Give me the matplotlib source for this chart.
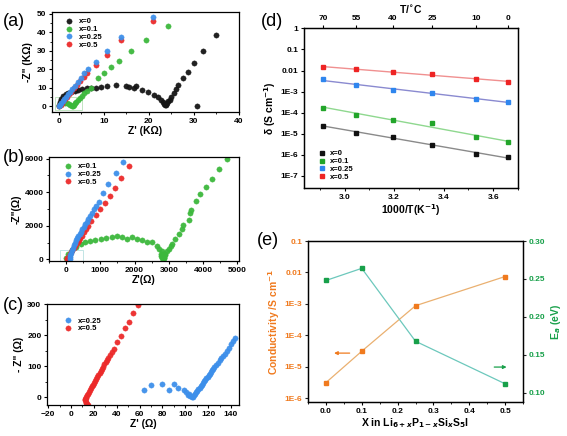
import numpy as np
import matplotlib.pyplot as plt
from matplotlib.ticker import MultipleLocator, FixedLocator, FixedFormatter, NullLocator

plt.rcParams['font.family'] = ['Liberation Sans', 'DejaVu Sans']
plt.rcParams['font.weight'] = 'bold'
plt.rcParams['axes.labelweight'] = 'bold'
plt.rcParams['axes.linewidth'] = 0.9
plt.rcParams['xtick.major.size'] = 2.5
plt.rcParams['ytick.major.size'] = 2.5
plt.rcParams['xtick.minor.size'] = 1.5
plt.rcParams['ytick.minor.size'] = 1.5
plt.rcParams['xtick.major.width'] = 0.8
plt.rcParams['ytick.major.width'] = 0.8

# ---------------- (a) Nyquist, KOhm ----------------
a_re_0 = [0.1, 0.3, 0.6, 1.0, 1.5, 2.0, 2.7, 3.5, 4.3, 5.2, 6.2, 7.2, 8.3, 9.4, 10.8, 12.7,
          14.9, 15.6, 16.8, 17.1, 18.5, 19.7, 21.2, 22.1, 22.7, 23.1, 23.3, 23.5, 23.7, 23.9,
          24.1, 24.3, 24.6, 25.0, 25.5, 26.0, 26.5, 27.5, 28.6, 30.0, 32.0, 34.9, 30.6]
a_im_0 = [1.0, 2.5, 4.0, 5.5, 6.5, 7.2, 7.8, 8.3, 8.8, 9.2, 9.7, 9.9, 9.8, 10.6, 11.2, 11.4,
          11.0, 10.3, 9.8, 11.0, 8.9, 8.0, 6.2, 4.9, 3.4, 2.2, 1.2, 0.8, 1.0, 1.5,
          2.1, 2.8, 3.6, 5.0, 7.0, 9.5, 11.8, 15.2, 18.8, 23.4, 29.7, 38.8, 0.3]
a_re_1 = [0.1, 0.3, 0.6, 1.0, 1.4, 1.8, 2.2, 2.6, 2.9, 3.1, 3.3, 3.6, 3.9, 4.3, 4.7, 5.2,
          5.7, 6.3, 7.1, 8.6, 10.1, 11.5, 13.4, 16.0, 19.4, 24.2]
a_im_1 = [0.2, 0.8, 1.3, 1.6, 1.7, 1.6, 1.3, 0.8, 0.4, 0.5, 1.0, 1.8, 2.6, 3.6, 4.6, 5.8,
          7.0, 8.4, 10.2, 15.2, 18.3, 21.2, 24.8, 29.7, 35.7, 43.7]
a_re_25 = [0.1, 0.3, 0.6, 0.9, 1.2, 1.6, 2.0, 2.5, 3.0, 3.6, 4.2, 4.9, 5.7, 6.5, 8.2, 10.7, 13.9, 21.0]
a_im_25 = [0.3, 1.0, 2.0, 3.0, 4.0, 5.2, 6.5, 8.0, 9.5, 11.3, 13.3, 15.5, 17.8, 20.0, 24.0, 29.7, 37.6, 48.4]
a_re_5 = [0.1, 0.4, 0.7, 1.0, 1.4, 1.8, 2.3, 2.8, 3.4, 4.0, 4.7, 5.5, 6.3, 8.2, 10.7, 13.8, 21.0]
a_im_5 = [0.2, 1.0, 2.0, 3.0, 4.0, 5.2, 6.6, 8.0, 9.7, 11.5, 13.5, 15.8, 18.0, 22.3, 28.0, 35.8, 46.0]

# ---------------- (b) Nyquist, Ohm ----------------
b_re_1 = [0, 50, 160, 290, 440, 560, 710, 850, 1020, 1160, 1350, 1500, 1620, 1770, 1910, 2080,
          2220, 2370, 2510, 2660, 2710, 2760, 2780, 2790, 2800, 2820, 2830, 2850, 2870, 2880,
          2900, 2950, 3000, 3050, 3100, 3190, 3290, 3380, 3410, 3580, 3630, 3660, 3800, 3900,
          4080, 4250, 4470, 4690]
b_im_1 = [100, 340, 580, 740, 900, 1040, 1080, 1180, 1240, 1280, 1340, 1380, 1340, 1240, 1340, 1240,
          1180, 1040, 1040, 780, 640, 340, 200, 500, 80, 0, 300, 100, 50, 250,
          340, 500, 640, 800, 940, 1240, 1480, 1780, 2040, 2340, 2780, 2940, 3480, 3880,
          4300, 4800, 5380, 6000]
b_re_25 = [100, 110, 120, 140, 160, 190, 220, 255, 290, 325, 360, 400, 440, 475, 510, 555,
           600, 650, 700, 760, 820, 880, 950, 1080, 1230, 1450, 1660]
b_im_25 = [0, 120, 240, 390, 540, 690, 840, 990, 1140, 1260, 1380, 1510, 1640, 1790, 1940, 2090,
           2240, 2410, 2580, 2780, 2980, 3200, 3440, 3940, 4480, 5140, 5820]
b_re_5 = [13, 40, 70, 100, 140, 180, 220, 260, 300, 340, 380, 420, 470, 530, 590, 650,
          740, 870, 1000, 1130, 1280, 1430, 1610, 1840]
b_im_5 = [0, 100, 200, 300, 420, 540, 660, 780, 900, 1020, 1140, 1260, 1420, 1600, 1780, 1980,
          2280, 2640, 3000, 3380, 3780, 4280, 4850, 5560]

# ---------------- (c) Nyquist, Ohm ----------------
c_re_25 = [64, 70, 79.5, 86, 90, 93.5, 98.5, 101, 102, 103.5, 104.5, 105.5, 106.5, 107.5, 108.5,
           109.5, 110.5, 111.5, 112.5, 113.5, 114.5, 115.5, 116.5, 117.5, 118.5, 119.5, 120.5,
           121.5, 122.5, 123.5, 124.5, 125.5, 127, 128.5, 130, 131.5, 133, 134.5, 136.4, 138.5,
           140.3, 141.8, 143.8]
c_im_25 = [24, 39, 42, 23, 42, 31, 23, 17, 8, 12, 4, 1, 2, 6, 11,
           16, 21, 26, 31, 36, 41, 46, 51, 56, 61, 66, 71,
           76, 82, 87, 92, 97, 104, 111, 119, 126, 134, 141, 150, 160,
           172, 180, 190]
c_re_5 = [14.5, 13.8, 13.2, 12.8, 12.5, 12.5, 12.8, 13.5, 14.2, 15.0, 15.8, 16.6, 17.5, 18.4,
          19.3, 20.2, 21.1, 22.0, 23.0, 24.0, 25.0, 26.0, 27.1, 28.2, 29.3, 30.4, 31.6, 32.8,
          34.0, 35.5, 37.3, 40.4, 43.6, 47.0, 50.4, 54.2, 58.5]
c_im_5 = [-24, -21, -18, -14, -10, -6, -2, 2, 7, 12, 17, 23, 29, 35,
          41, 47, 53, 59, 65, 72, 78, 85, 92, 99, 106, 113, 121, 128,
          136, 146, 156, 177, 199, 223, 244, 271, 298]

# ---------------- (d) Arrhenius ----------------
temps_c = [70, 55, 40, 25, 10, 0]
sigma = {
    'x=0': [2.4e-5, 1.1e-5, 6.7e-6, 3.0e-6, 1.1e-6, 7.4e-7],
    'x=0.1': [1.7e-4, 7.9e-5, 4.6e-5, 3.2e-5, 6.9e-6, 3.8e-6],
    'x=0.25': [3.8e-3, 2.0e-3, 1.2e-3, 8.5e-4, 4.5e-4, 3.2e-4],
    'x=0.5': [1.45e-2, 1.12e-2, 8.4e-3, 7.2e-3, 3.9e-3, 2.8e-3],
}
d_mark_colors = ['#111111', '#22a52a', '#2f86ee', '#ee2424']
d_line_colors = ['#8a8a8a', '#8fd88f', '#8a8ad0', '#f09090']
d_yticks = [1, 0.1, 0.01, 1e-3, 1e-4, 1e-5, 1e-6, 1e-7]
d_ylabels = ['1', '0.1', '0.01', '1E-3', '1E-4', '1E-5', '1E-6', '1E-7']

# ---------------- (e) composition ----------------
x_si = [0.0, 0.1, 0.25, 0.5]
cond_rt = [3.1e-6, 3.1e-5, 8.7e-4, 7.4e-3]
ea = [0.248, 0.264, 0.168, 0.112]
e_yticks = [0.1, 0.01, 1e-3, 1e-4, 1e-5, 1e-6]
e_ylabels = ['0.1', '0.01', '1E-3', '1E-4', '1E-5', '1E-6']

W, H = 567, 436
fig = plt.figure(figsize=(W / 100, H / 100), dpi=100)


def px_axes(l, t, r, b):
    return fig.add_axes([l / W, 1 - b / H, (r - l) / W, (b - t) / H])


TICK = 6
LAB = 7.5
BLK, GRN, BLU, RED = '#151515', '#3cb83c', '#3d8fea', '#ec2a2a'


def nyq(ax, re, im, c, label):
    ax.plot(re, im, 'o', ms=3.8, mfc=c, mec=c, mew=0.3, label=label, alpha=0.95)


# (a)
ax = px_axes(52, 12, 239, 112)
nyq(ax, a_re_0, a_im_0, BLK, 'x=0')
nyq(ax, a_re_1, a_im_1, GRN, 'x=0.1')
nyq(ax, a_re_5, a_im_5, RED, 'x=0.5')
nyq(ax, a_re_25, a_im_25, BLU, 'x=0.25')
ax.add_patch(plt.Rectangle((-0.9, -2), 6.1, 7.3, fill=False, ec='#b8e0b8', lw=0.6))
ax.set_xlim(-1.5, 40)
ax.set_ylim(-3, 51)
ax.xaxis.set_major_locator(MultipleLocator(10))
ax.xaxis.set_minor_locator(MultipleLocator(5))
ax.yaxis.set_major_locator(MultipleLocator(10))
ax.yaxis.set_minor_locator(MultipleLocator(5))
ax.set_xlabel("Z' (KΩ)", fontsize=LAB, labelpad=1)
ax.set_ylabel('-Z" (KΩ)', fontsize=LAB, labelpad=3)
h, l = ax.get_legend_handles_labels()
order = [0, 1, 3, 2]
ax.legend([h[i] for i in order], [l[i] for i in order], loc='upper left', fontsize=5.5,
          frameon=False, labelspacing=0.05, handletextpad=0.3, borderpad=0.3,
          bbox_to_anchor=(0.02, 1.0))
ax.tick_params(labelsize=TICK, pad=1.5)

# (b)
ax = px_axes(49, 157, 239, 261)
nyq(ax, b_re_1, b_im_1, GRN, 'x=0.1')
nyq(ax, b_re_5, b_im_5, RED, 'x=0.5')
nyq(ax, b_re_25, b_im_25, BLU, 'x=0.25')
ax.add_patch(plt.Rectangle((-190, -100), 680, 640, fill=False, ec='#b8e0e0', lw=0.6))
ax.set_xlim(-500, 5050)
ax.set_ylim(-100, 6100)
ax.xaxis.set_major_locator(MultipleLocator(1000))
ax.xaxis.set_minor_locator(MultipleLocator(500))
ax.yaxis.set_major_locator(MultipleLocator(2000))
ax.yaxis.set_minor_locator(MultipleLocator(1000))
ax.set_xlabel("Z'(Ω)", fontsize=LAB, labelpad=1)
ax.set_ylabel('-Z"(Ω)', fontsize=LAB, labelpad=2)
h, l = ax.get_legend_handles_labels()
order = [0, 2, 1]
ax.legend([h[i] for i in order], [l[i] for i in order], loc='upper left', fontsize=5.5,
          frameon=False, labelspacing=0.05, handletextpad=0.3, borderpad=0.3,
          bbox_to_anchor=(0.03, 1.0))
ax.tick_params(labelsize=TICK, pad=1.5)

# (c)
ax = px_axes(47, 304, 239, 405)
nyq(ax, c_re_5, c_im_5, RED, 'x=0.5')
nyq(ax, c_re_25, c_im_25, BLU, 'x=0.25')
ax.set_xlim(-21, 147)
ax.set_ylim(-25, 301)
ax.xaxis.set_major_locator(MultipleLocator(20))
ax.xaxis.set_minor_locator(MultipleLocator(10))
ax.yaxis.set_major_locator(MultipleLocator(100))
ax.yaxis.set_minor_locator(MultipleLocator(50))
ax.set_xlabel("Z' (Ω)", fontsize=LAB, labelpad=1)
ax.set_ylabel('- Z" (Ω)', fontsize=LAB, labelpad=2)
h, l = ax.get_legend_handles_labels()
ax.legend(h[::-1], l[::-1], loc='upper left', fontsize=5.5,
          frameon=False, labelspacing=0.05, handletextpad=0.3, borderpad=0.3,
          bbox_to_anchor=(0.04, 0.93))
ax.tick_params(labelsize=TICK, pad=1.5)

# (d)
ax = px_axes(304, 28, 518, 188)
inv_t = 1000 / (np.array(temps_c) + 273.15)
for (name, vals), mc, lc in zip(sigma.items(), d_mark_colors, d_line_colors):
    k, b = np.polyfit(inv_t, np.log10(vals), 1)
    ax.plot(inv_t, 10 ** (k * inv_t + b), '-', color=lc, lw=1.0)
    ax.plot(inv_t, vals, 's', ms=3.2, color=mc, label=name, linestyle='none')
ax.set_yscale('log')
ax.set_ylim(2.6e-8, 1.05)
ax.set_xlim(2.836, 3.70)
ax.yaxis.set_major_locator(FixedLocator(d_yticks))
ax.yaxis.set_major_formatter(FixedFormatter(d_ylabels))
ax.yaxis.set_minor_locator(NullLocator())
ax.xaxis.set_major_locator(MultipleLocator(0.2))
ax.xaxis.set_minor_locator(MultipleLocator(0.1))
ax.set_xlabel('1000/T(K$^{-1}$)', fontsize=LAB, labelpad=1)
ax.set_ylabel('δ (S cm$^{-1}$)', fontsize=LAB, labelpad=2)
ax.tick_params(labelsize=TICK, pad=1.5)
ax.legend(loc='upper left', bbox_to_anchor=(0.04, 0.27), fontsize=5.5, frameon=False,
          labelspacing=0.05, handletextpad=0.4, borderpad=0.2, handlelength=1.2)
top = ax.twiny()
top.set_xlim(ax.get_xlim())
top.xaxis.set_major_locator(FixedLocator(list(inv_t)))
top.xaxis.set_major_formatter(FixedFormatter([str(t) for t in temps_c]))
top.tick_params(labelsize=TICK, pad=1.5)
top.set_xlabel('T/$^{\\circ}$C', fontsize=LAB, labelpad=2)

# (e)
ORG, ORG_L = '#f07a1e', '#eab070'
EG, EG_L = '#18a04a', '#6cc8bc'
ax = px_axes(308, 241, 523, 402)
ax.plot(x_si, cond_rt, '-', color=ORG_L, lw=0.9)
ax.plot(x_si, cond_rt, 's', ms=3.2, color=ORG)
ax.set_yscale('log')
ax.set_ylim(7.5e-7, 0.1)
ax.set_xlim(-0.05, 0.55)
ax.yaxis.set_major_locator(FixedLocator(e_yticks))
ax.yaxis.set_major_formatter(FixedFormatter(e_ylabels))
ax.yaxis.set_minor_locator(NullLocator())
ax.xaxis.set_major_locator(MultipleLocator(0.1))
ax.xaxis.set_minor_locator(MultipleLocator(0.05))
ax.tick_params(labelsize=TICK, pad=1.5)
ax.tick_params(axis='y', colors=ORG, labelcolor=ORG)
ax.tick_params(axis='y', which='both', color='#222222')
ax.set_ylabel('Conductivity /S cm$^{-1}$', fontsize=LAB, color=ORG, labelpad=2)
ax.set_xlabel('X in Li$_{6+x}$P$_{1-x}$Si$_x$S$_5$I', fontsize=LAB, labelpad=1)
ax.annotate('', xy=(0.015, 2.7e-5), xytext=(0.074, 2.7e-5),
            arrowprops=dict(arrowstyle='-|>', color=ORG, lw=0.9, mutation_scale=5))
ax2 = ax.twinx()
ax2.plot(x_si, ea, '-', color=EG_L, lw=0.9)
ax2.plot(x_si, ea, 's', ms=3.2, color=EG)
ax2.set_ylim(0.088, 0.30)
ax2.yaxis.set_major_locator(MultipleLocator(0.05))
ax2.yaxis.set_major_formatter(plt.FuncFormatter(lambda v, p: '%.2f' % v))
ax2.tick_params(axis='y', labelsize=TICK, pad=1.5, labelcolor=EG, color='#222222')
ax2.set_ylabel('E$_a$ (eV)', fontsize=LAB, color=EG, labelpad=3)
ax2.annotate('', xy=(0.512, 0.134), xytext=(0.462, 0.134),
             arrowprops=dict(arrowstyle='-|>', color=EG, lw=0.9, mutation_scale=5))

for lab, x, y in [('(a)', 3, 21), ('(b)', 3, 157), ('(c)', 3, 305), ('(d)', 261, 21), ('(e)', 257, 240)]:
    fig.text(x / W, 1 - y / H, lab, fontsize=13, fontweight='normal', va='center')

fig.savefig('out.png', dpi=100)
